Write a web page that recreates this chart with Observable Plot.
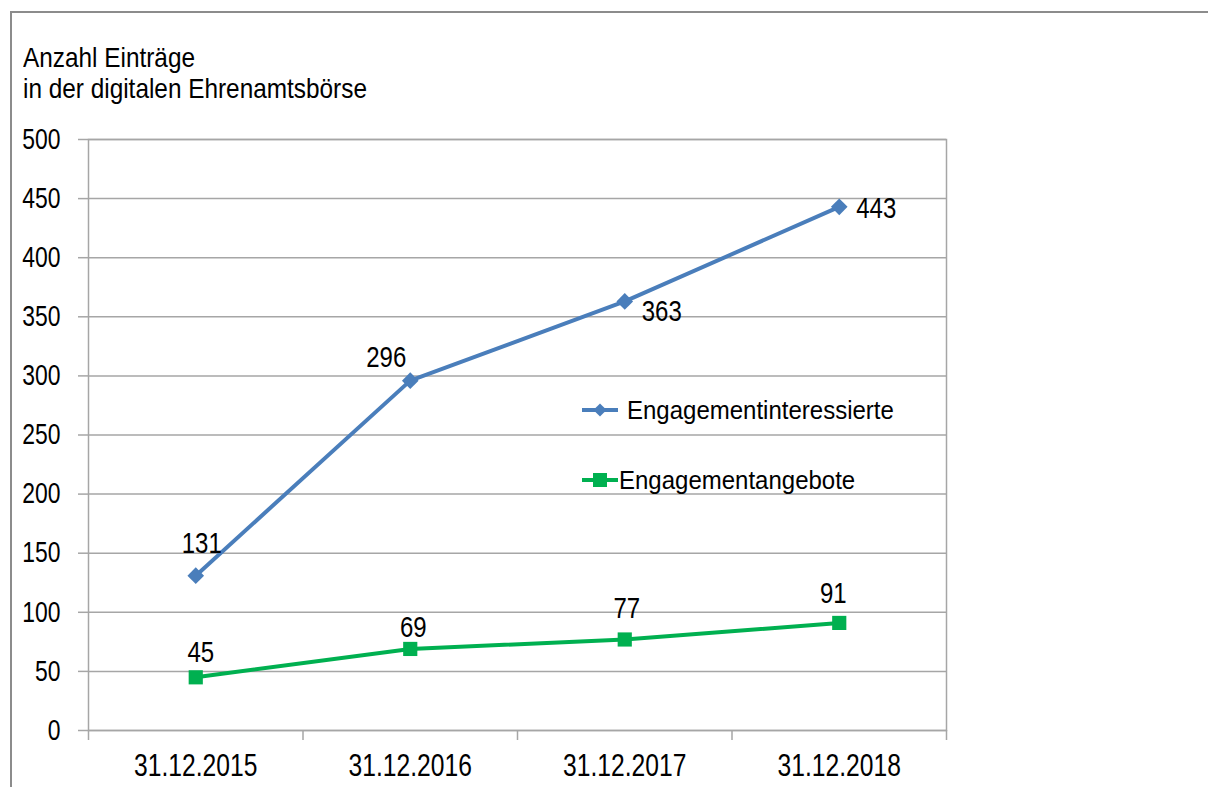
<!DOCTYPE html>
<html>
<head>
<meta charset="utf-8">
<script src="https://cdn.jsdelivr.net/npm/d3@7"></script>
<script src="https://cdn.jsdelivr.net/npm/@observablehq/plot@0.6"></script>
<style>
  html, body { margin: 0; padding: 0; background: #fff; }
  #wrap { position: relative; width: 1208px; height: 787px; overflow: hidden;
    font-family: "Liberation Sans", Arial, sans-serif; color: #000; }
  #border { position: absolute; left: 10px; top: 11px; width: 1300px; height: 900px;
    border-left: 2px solid #8c8c8c; border-top: 2px solid #8c8c8c; }
  #title { position: absolute; left: 23px; top: 42px; font-size: 28px; line-height: 31px;
    transform: scaleX(0.87); transform-origin: 0 0; white-space: nowrap; }
  #chart { position: absolute; left: 0; top: 0; }
  .leg { position: absolute; display: flex; align-items: center; font-size: 25px; line-height: 30px; white-space: nowrap; }
  .leg svg { display: block; }
  .leg span { display: inline-block; transform: scaleX(0.96); transform-origin: 0 50%; }
</style>
</head>
<body>
<div id="wrap">
  <div id="border"></div>
  <div id="title">Anzahl Einträge<br>in der digitalen Ehrenamtsbörse</div>
  <div id="chart"></div>
  <div class="leg" id="leg1"></div>
  <div class="leg" id="leg2"></div>
</div>
<script>
// ---- data ----
const dates = ["31.12.2015", "31.12.2016", "31.12.2017", "31.12.2018"];
const interessierte = [131, 296, 363, 443];
const angebote = [45, 69, 77, 91];
const seriesNames = ["Engagementinteressierte", "Engagementangebote"];
const yTicks = [0, 50, 100, 150, 200, 250, 300, 350, 400, 450, 500];

// ---- styling / layout (not data) ----
const blue = "#4a7ebb";
const green = "#00b050";
const gridColor = "#a6a6a6";
const font = '"Liberation Sans", Arial, sans-serif';
const blueLabelOffsets = [[6, -32], [-24, -23], [37, 10], [37, 2]];
const greenLabelOffsets = [[5, -25], [3, -22], [2, -31], [-6, -30]];

const rowsB = dates.map((d, i) => ({i, date: d, value: interessierte[i]}));
const rowsG = dates.map((d, i) => ({i, date: d, value: angebote[i]}));
const xPos = d => d.i + 0.5;

const labelMarks = [];
rowsB.forEach((r, k) => labelMarks.push(Plot.text([r], {x: xPos, y: "value", text: d => String(d.value),
  dx: blueLabelOffsets[k][0], dy: blueLabelOffsets[k][1], fill: "#000", fontSize: 30})));
rowsG.forEach((r, k) => labelMarks.push(Plot.text([r], {x: xPos, y: "value", text: d => String(d.value),
  dx: greenLabelOffsets[k][0], dy: greenLabelOffsets[k][1], fill: "#000", fontSize: 30})));

const chart = Plot.plot({
  width: 1208,
  height: 787,
  marginLeft: 88,
  marginRight: 262,
  marginTop: 139,
  marginBottom: 57,
  style: {fontFamily: font, fontSize: "28px", color: "#000", background: "transparent"},
  x: {domain: [0, dates.length], label: null},
  y: {domain: [0, 500], label: null},
  marks: [
    Plot.gridY(yTicks, {stroke: gridColor, strokeOpacity: 1, strokeWidth: 1.5}),
    Plot.frame({stroke: gridColor, strokeWidth: 1.5}),
    Plot.axisY(yTicks, {tickSize: 10, tickPadding: 18, stroke: gridColor, strokeWidth: 1.5, fill: "#000", fontSize: 29, label: null}),
    Plot.axisX(d3.range(dates.length + 1), {tickSize: 10, tickFormat: () => "", stroke: gridColor, strokeWidth: 1.5, label: null}),
    Plot.axisX(dates.map((d, i) => i + 0.5), {tickSize: 0, tickPadding: 23, tickFormat: v => dates[Math.floor(v)], fill: "#000", fontSize: 32, label: null}),
    Plot.line(rowsB, {x: xPos, y: "value", stroke: blue, strokeWidth: 4}),
    Plot.dot(rowsB, {x: xPos, y: "value", symbol: "diamond2", r: 7.5, fill: blue, stroke: null}),
    Plot.line(rowsG, {x: xPos, y: "value", stroke: green, strokeWidth: 4}),
    Plot.dot(rowsG, {x: xPos, y: "value", symbol: "square", r: 8, fill: green, stroke: null}),
    ...labelMarks
  ]
});
document.getElementById("chart").appendChild(chart);

// condense text horizontally (reference uses a narrow face)
function condense(selector, factor) {
  chart.querySelectorAll(selector).forEach(t => {
    const len = t.getComputedTextLength();
    if (len > 0) {
      t.setAttribute("textLength", (len * factor).toFixed(2));
      t.setAttribute("lengthAdjust", "spacingAndGlyphs");
    }
  });
}
condense('g[aria-label="y-axis tick label"] text', 0.79);
condense('g[aria-label="x-axis tick label"] text', 0.77);
condense('g[aria-label="text"] text', 0.8);

// ---- legend ----
function swatch(color, symbol) {
  const w = 40, h = 20;
  const svg = d3.create("svg").attr("width", w).attr("height", h);
  svg.append("line").attr("x1", 2).attr("x2", 38).attr("y1", h / 2).attr("y2", h / 2)
    .attr("stroke", color).attr("stroke-width", 4);
  if (symbol === "diamond") {
    svg.append("path").attr("d", d3.symbol(d3.symbolDiamond2, 110)()).attr("transform", `translate(20,${h / 2})`).attr("fill", color);
  } else {
    svg.append("rect").attr("x", 13).attr("y", h / 2 - 7).attr("width", 14).attr("height", 14).attr("fill", color);
  }
  return svg.node();
}
const leg1 = document.getElementById("leg1");
leg1.style.left = "580px"; leg1.style.top = "395px";
leg1.appendChild(swatch(blue, "diamond"));
const t1 = document.createElement("span"); t1.textContent = seriesNames[0]; t1.style.marginLeft = "7px";
leg1.appendChild(t1);
const leg2 = document.getElementById("leg2");
leg2.style.left = "580px"; leg2.style.top = "465px";
leg2.appendChild(swatch(green, "square"));
const t2 = document.createElement("span"); t2.textContent = seriesNames[1]; t2.style.marginLeft = "-1px";
leg2.appendChild(t2);
</script>
</body>
</html>
